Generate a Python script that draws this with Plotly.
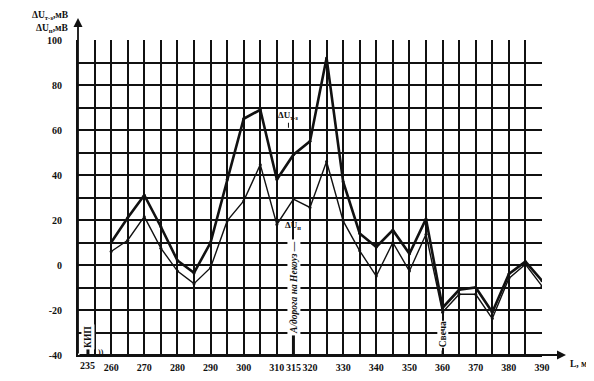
import plotly.graph_objects as go

L = [260, 265, 270, 275, 280, 285, 290, 295, 300, 305, 310, 315, 320, 325,
     330, 335, 340, 345, 350, 355, 360, 365, 370, 375, 380, 385, 390]
U_tz = [10, 21, 31, 17, 2, -3.5, 10, 38, 65, 69, 38, 49, 55, 92,
        37, 14, 8, 15.5, 5, 20.5, -19, -11, -10, -21, -4, 1.5, -7]
U_p = [6, 11, 21.5, 7.5, -2.7, -8.3, -1.2, 19.6, 28.5, 44.6, 18, 29.3, 25.6, 46,
       19.6, 6.3, -4.9, 10, -2.7, 13.7, -21, -13, -13, -23.8, -6, 0.3, -9.4]

x_grid = list(range(255, 391, 5))
x_labels = {260: "260", 270: "270", 280: "280", 290: "290", 300: "300",
            310: "310", 315: "315", 320: "320", 330: "330", 340: "340",
            350: "350", 360: "360", 370: "370", 380: "380", 390: "390"}
y_grid = list(range(-40, 101, 10))
y_labels = {v: str(v) for v in range(-40, 101, 20)}

FONT = "Liberation Serif"
INK = "#111111"

fig = go.Figure()
fig.add_trace(go.Scatter(x=L, y=U_p, mode="lines+markers",
                         line=dict(color=INK, width=1.4),
                         marker=dict(size=3, color=INK), showlegend=False))
fig.add_trace(go.Scatter(x=L, y=U_tz, mode="lines+markers",
                         line=dict(color=INK, width=2.6),
                         marker=dict(size=3, color=INK), showlegend=False))

# page body has an 8px margin: the figure starts at screen (8, 8)
OFF = 8
SW, SH = 594, 381
W, H = SW - OFF, SH - OFF
# desired plot area in screen pixels
X0, X1, Y0, Y1 = 78, 542, 40, 355
ml, mr, mt, mb = X0 - OFF, SW - X1, Y0 - OFF, SH - Y1
pw, ph = X1 - X0, Y1 - Y0


def px(xs):
    return (xs - X0) / pw


def py(ys):
    return (Y1 - ys) / ph


ann = []
# axis arrows
ann.append(dict(x=px(566), y=0, xref="paper", yref="paper", ax=-(566 - X0), ay=0,
                showarrow=True, arrowhead=2, arrowsize=1, arrowwidth=1.8,
                arrowcolor=INK, text=""))
ann.append(dict(x=0, y=py(18), xref="paper", yref="paper", ax=0, ay=(Y1 - 18),
                showarrow=True, arrowhead=2, arrowsize=1, arrowwidth=1.8,
                arrowcolor=INK, text=""))
# axis titles
ann.append(dict(x=px(71), y=py(15), xref="paper", yref="paper", xanchor="right",
                yanchor="middle", showarrow=False,
                text="<b>ΔU<sub>т-з</sub>,мВ</b>", font=dict(size=9.5, family=FONT, color=INK)))
ann.append(dict(x=px(71), y=py(29), xref="paper", yref="paper", xanchor="right",
                yanchor="middle", showarrow=False,
                text="<b>ΔU<sub>п</sub>,мВ</b>", font=dict(size=9.5, family=FONT, color=INK)))
ann.append(dict(x=px(568), y=py(364), xref="paper", yref="paper", xanchor="left",
                yanchor="middle", showarrow=False,
                text="<b>L, м</b>", font=dict(size=9.5, family=FONT, color=INK)))
# 235 label and KIP marker
ann.append(dict(x=253, y=0, xref="x", yref="paper", yanchor="top", yshift=-3,
                showarrow=False, text="<b>235</b>", font=dict(size=10, family=FONT, color=INK)))
ann.append(dict(x=253, y=-32, xref="x", yref="y", textangle=-90, showarrow=False,
                text="<b>КИП</b>", font=dict(size=9.5, family=FONT, color=INK), bgcolor="white"))
ann.append(dict(x=256.8, y=-39, xref="x", yref="y", showarrow=False,
                text="))", font=dict(size=8, family=FONT, color=INK)))
# curve labels
ann.append(dict(x=313.5, y=61, xref="x", yref="y", ax=0, ay=-12, showarrow=True,
                arrowhead=0, arrowwidth=1, arrowcolor=INK,
                text="<b>ΔU<sub>т-з</sub></b>", font=dict(size=9, family=FONT, color=INK)))
ann.append(dict(x=315, y=8, xref="x", yref="y", ax=0, ay=-22, showarrow=True,
                arrowhead=0, arrowwidth=1, arrowcolor=INK,
                text="<b>ΔU<sub>п</sub></b>", font=dict(size=9, family=FONT, color=INK)))
ann.append(dict(x=315, y=-10, xref="x", yref="y", textangle=-90, showarrow=False,
                text="<i>А/дорога на Некоуз —</i>", font=dict(size=9.5, family=FONT, color=INK),
                bgcolor="white"))
ann.append(dict(x=360, y=-31, xref="x", yref="y", textangle=-90, showarrow=False,
                text="<b>Свеча</b>", font=dict(size=9.5, family=FONT, color=INK), bgcolor="white",
                borderpad=0))

shapes = [
    dict(type="line", xref="x", yref="y", x0=253, x1=253, y0=-40, y1=-36.5,
         line=dict(color=INK, width=3)),
    dict(type="line", xref="x", yref="y", x0=315, x1=315, y0=-40, y1=-31,
         line=dict(color=INK, width=3)),
    dict(type="line", xref="x", yref="y", x0=360, x1=360, y0=-40, y1=-38,
         line=dict(color=INK, width=2)),
]

fig.update_layout(
    width=W, height=H, margin=dict(l=ml, r=mr, t=mt, b=mb, autoexpand=False),
    paper_bgcolor="white", plot_bgcolor="white",
    font=dict(family=FONT, size=10, color=INK, weight="bold"),
    annotations=ann, shapes=shapes,
    xaxis=dict(range=[250, 390], tickmode="array", tickvals=x_grid,
               ticktext=[x_labels.get(v, "") for v in x_grid], tickangle=0,
               automargin=False, tickfont=dict(size=10),
               showgrid=True, gridcolor=INK, gridwidth=1.6, zeroline=False,
               showline=True, linecolor=INK, linewidth=2, ticks="",
               ticklabelstandoff=2),
    yaxis=dict(range=[-40, 100], tickmode="array", tickvals=y_grid,
               ticktext=[y_labels.get(v, "") for v in y_grid], automargin=False,
               showgrid=True, gridcolor=INK, gridwidth=1.6, zeroline=False,
               showline=True, linecolor=INK, linewidth=2, ticks="",
               ticklabelstandoff=12),
)

fig.write_html("out.html")
